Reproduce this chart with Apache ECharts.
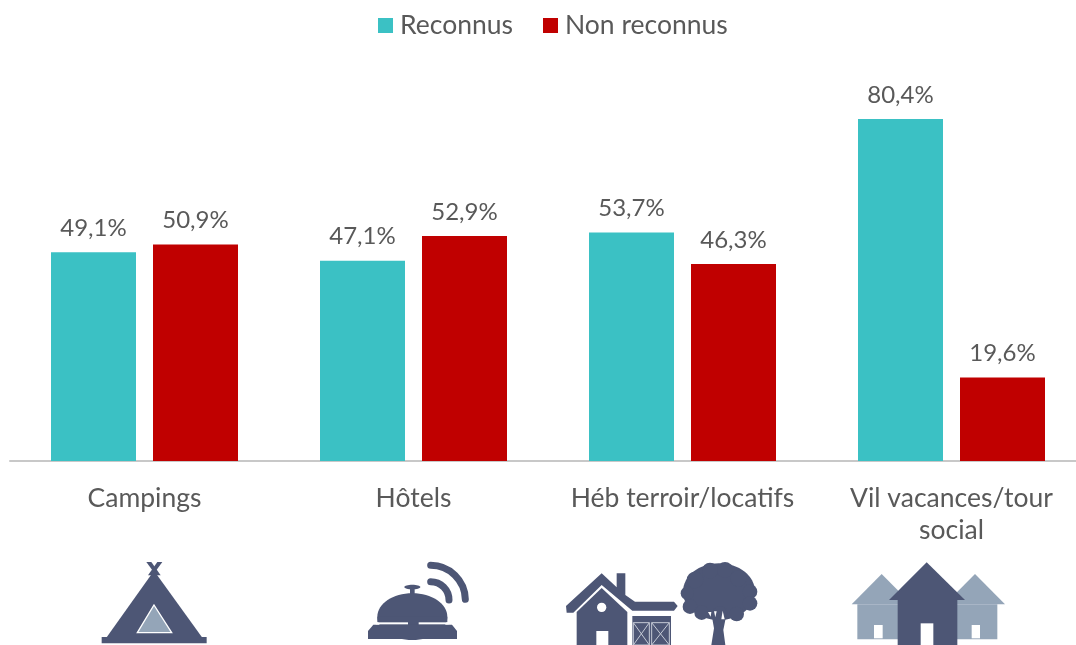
<!DOCTYPE html>
<html><head><meta charset="utf-8">
<style>html,body{margin:0;padding:0;background:#fff;overflow:hidden;width:1076px;height:645px}#c{width:1096px;height:645px}</style>
<script src="https://cdn.jsdelivr.net/npm/echarts@6/dist/echarts.min.js"></script>
</head><body><div id="c"></div>
<script>
const categories = ['Campings','Hôtels','Héb terroir/locatifs','Vil vacances/tour\nsocial'];
const reconnus = [49.1,47.1,53.7,80.4];
const nonReconnus = [50.9,52.9,46.3,19.6];
const seriesNames = ['Reconnus','Non reconnus'];
const TXT='#595959', DARK='#4d5675', LIGHT='#94a5b8', W='#ffffff';
const fmt = p => p.value.toFixed(1).replace('.',',')+'%';
const poly=(pts,fill,extra)=>({type:'polygon',shape:{points:pts},style:Object.assign({fill},extra||{}),silent:true});
const rect=(x,y,w,h,fill)=>({type:'rect',shape:{x,y,width:w,height:h},style:{fill},silent:true});
const circ=(cx,cy,r,fill)=>({type:'circle',shape:{cx,cy,r},style:{fill},silent:true});
const line=(pts,color,width)=>({type:'polyline',shape:{points:pts},style:{fill:null,stroke:color,lineWidth:width},silent:true});
const arc=(cx,cy,r,a0,a1,width)=>({type:'arc',shape:{cx,cy,r,startAngle:a0,endAngle:a1,clockwise:true},style:{fill:null,stroke:DARK,lineWidth:width,lineCap:'round'},silent:true});
const treeBlobs=[[480,62,24],[525,60,24],[565,85,25],[435,90,25],[600,125,22],[412,130,20],[600,160,22],[420,170,22],[560,192,22],[455,188,22],[510,190,22]];
const leftIcons={type:'group',x:80,y:550,scaleX:1/3,scaleY:1/3,silent:true,children:[
  poly([[199,36],[214,36],[242,76],[228,76]],DARK), poly([[247,36],[232,36],[204,76],[218,76]],DARK),
  poly([[222,62],[366,262],[80,262]],DARK),
  rect(65,261,315,19,DARK),
  poly([[222,165],[275,248],[172,248]],LIGHT,{stroke:W,lineWidth:4}),
  // bell
  {type:'ellipse',shape:{cx:997,cy:111,rx:24,ry:7},style:{fill:DARK},silent:true}, rect(990,112,14,24,DARK),
  {type:'ellipse',shape:{cx:997,cy:200,rx:105,ry:70},style:{fill:DARK},silent:true},
  rect(892,200,210,17,DARK),
  rect(984,216,32,12,DARK),
  poly([[880,224],[1116,224],[1131,243],[1131,267],[864,267],[864,243]],DARK),
  rect(888,217,96,6,W), rect(1016,217,90,6,W),
  arc(1052,150,104,-Math.PI/2,-0.02,21),
  arc(1052,150,55,-Math.PI/2,0,21)
]};
const rightIcons={type:'group',x:550,y:550,scaleX:1/3,scaleY:1/3,silent:true,children:[
  // farmhouse
  poly([[155,70],[200,112],[200,70],[226,70],[226,135],[255,155],[372,155],[383,168],[372,182],[247,182],[155,105],[70,188],[50,188],[48,168]],DARK),
  poly([[155,114],[232,186],[232,285],[80,285],[80,186]],DARK),
  circ(155,172,14,W),
  rect(139,243,36,42,W),
  rect(247,198,116,87,DARK),
  ...[[250,218,48,67],[305,218,53,67]].flatMap(([x,y,w,h])=>[
    {type:'rect',shape:{x,y,width:w,height:h},style:{fill:DARK,stroke:'#c5cad6',lineWidth:3},silent:true},
    line([[x,y],[x+w,y+h]],'#c5cad6',3), line([[x+w,y],[x,y+h]],'#c5cad6',3)
  ]),
  // tree
  {type:'ellipse',shape:{cx:507,cy:125,rx:108,ry:85},style:{fill:DARK},silent:true},
  ...treeBlobs.map(([x,y,r])=>circ(x,y,r,DARK)),
  poly([[484,190],[530,190],[520,240],[526,285],[484,285],[492,235]],DARK),
  poly([[474,186],[484,186],[482,200]],W),poly([[492,184],[500,184],[496,202]],W),poly([[518,182],[524,208],[514,208]],W),
  // village
  poly([[995,72],[1085,163],[905,163]],LIGHT), rect(922,163,140,105,LIGHT),
  poly([[1275,72],[1365,163],[1185,163]],LIGHT), rect(1200,163,142,105,LIGHT),
  rect(972,225,26,40,W), rect(1265,225,25,40,W),
  poly([[1130,37],[1245,150],[1017,150]],DARK), rect(1043,150,179,135,DARK),
  rect(1112,220,38,65,W)
]};
const barLabel={show:true,position:'top',distance:12,color:TXT,fontSize:24,fontFamily:'Lato',formatter:fmt};
const option={
  animation:false,
  backgroundColor:'#fff',
  legend:{left:373,top:7,itemWidth:15,itemHeight:15,itemGap:30,icon:'rect',
    data:seriesNames,
    textStyle:{color:TXT,fontSize:26.5,fontFamily:'Lato',padding:[0,0,0,2]}},
  grid:{left:10,top:35.6,width:1076,height:425.4,containLabel:false},
  xAxis:{type:'category',data:categories,
    axisLine:{lineStyle:{color:'#c8c8c8',width:2}},axisTick:{show:false},
    axisLabel:{color:TXT,fontSize:26.5,fontFamily:'Lato',margin:21,lineHeight:32,interval:0}},
  yAxis:{type:'value',min:0,max:100,show:false,splitLine:{show:false}},
  series:[
    {name:seriesNames[0],type:'bar',data:reconnus,barWidth:85,barGap:'20%',itemStyle:{color:'#3bc1c4'},label:barLabel},
    {name:seriesNames[1],type:'bar',data:nonReconnus,barWidth:85,itemStyle:{color:'#c00000'},label:barLabel}
  ],
  graphic:{elements:[leftIcons,rightIcons]}
};
echarts.init(document.getElementById('c'),null,{renderer:'canvas'}).setOption(option);
</script></body></html>
